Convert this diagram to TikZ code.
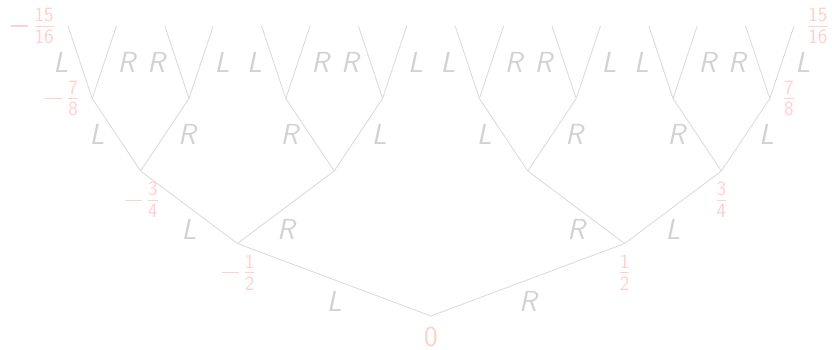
\documentclass[tikz,border=0pt]{standalone}
\usepackage{fontspec}
\definecolor{edgegray}{RGB}{218,218,218}
\definecolor{lblgray}{RGB}{210,210,210}
\definecolor{numpink}{RGB}{255,208,208}
% sans fraction built from text: numerator, bar on the axis, denominator
\newcommand\sfr[2]{{\fontsize{20.3}{22}\selectfont
  \setbox0\hbox{#1}\setbox2\hbox{#2}%
  \dimen0=\wd0 \ifdim\wd2>\dimen0 \dimen0=\wd2 \fi
  \dimen2=\ht2 \advance\dimen2 by -3.27pt
  \kern1.2pt\lower\dimen2\vbox{\hbox to\dimen0{\hss\box0\hss}\kern3.6pt
    \hrule height1.16pt\kern3.4pt\hbox to\dimen0{\hss\box2\hss}}\kern1.2pt}}
\newcommand\negsign{\kern2.5pt\rule[6.7pt]{17pt}{1.16pt}\kern5pt}
\tikzset{
  br/.style={draw=edgegray, line width=0.85pt},
  lbl/.style={text=lblgray, font=\fontsize{29}{34}\selectfont\sffamily\itshape, inner sep=0pt},
  lleft/.style={lbl, anchor=east, xshift=-11.5pt},
  lright/.style={lbl, anchor=west, xshift=13pt},
  lbelow/.style={lbl, anchor=north, yshift=-11.5pt},
  num/.style={text=numpink, font=\fontsize{29}{34}\selectfont\sffamily, inner sep=0pt},
  nbelow/.style={num, anchor=north, yshift=-11pt},
  nleft/.style={num, anchor=east, xshift=-13pt},
  nright/.style={num, anchor=west, xshift=13pt},
}
\begin{document}
\begin{tikzpicture}[x=1pt,y=-1pt]
\useasboundingbox (0,0) rectangle (832,349);
% tree points
\coordinate (r) at (431,316);
\foreach \i in {0,1} \coordinate (a\i) at ({237.4+387.2*\i},243.5);
\foreach \i in {0,...,3} \coordinate (b\i) at ({140.6+193.6*\i},171);
\foreach \i in {0,...,7} \coordinate (c\i) at ({92.2+96.8*\i},98.5);
\foreach \i in {0,...,15} \coordinate (d\i) at ({68+48.4*\i},26);
% root edges
\draw[br] (r) -- node[lbelow]{L} (a0);
\draw[br] (r) -- node[lbelow]{R} (a1);
% level 1 -> 2
\draw[br] (a0) -- node[lbelow]{L} (b0);
\draw[br] (a0) -- node[lbelow]{R} (b1);
\draw[br] (a1) -- node[lbelow]{R} (b2);
\draw[br] (a1) -- node[lbelow]{L} (b3);
% level 2 -> 3
\foreach \j in {0,...,3} {
  \pgfmathtruncatemacro\kl{2*\j}
  \pgfmathtruncatemacro\kr{2*\j+1}
  \ifodd\j \def\ll{R}\def\rl{L}\else\def\ll{L}\def\rl{R}\fi
  \draw[br] (b\j) -- node[lleft]{\ll} (c\kl);
  \draw[br] (b\j) -- node[lright]{\rl} (c\kr);
}
% level 3 -> 4
\foreach \j in {0,...,7} {
  \pgfmathtruncatemacro\kl{2*\j}
  \pgfmathtruncatemacro\kr{2*\j+1}
  \ifodd\j \def\ll{R}\def\rl{L}\else\def\ll{L}\def\rl{R}\fi
  \draw[br] (c\j) -- node[lleft]{\ll} (d\kl);
  \draw[br] (c\j) -- node[lright]{\rl} (d\kr);
}
% value labels
\node[nleft] (v1) at (d0) {\negsign\sfr{15}{16}};
\node[nleft] (v2) at (c0) {\negsign\sfr{7}{8}};
\node[nbelow] (v3) at (b0) {\negsign\sfr{3}{4}};
\node[nbelow] (v4) at (a0) {\negsign\sfr{1}{2}};
\node[nbelow] (v5) at (r) {0};
\node[nbelow] (v6) at (a1) {\sfr{1}{2}};
\node[nbelow] (v7) at (b3) {\sfr{3}{4}};
\node[nright] (v8) at (c7) {\sfr{7}{8}};
\node[nright] (v9) at (d15) {\sfr{15}{16}};
\end{tikzpicture}
\end{document}
